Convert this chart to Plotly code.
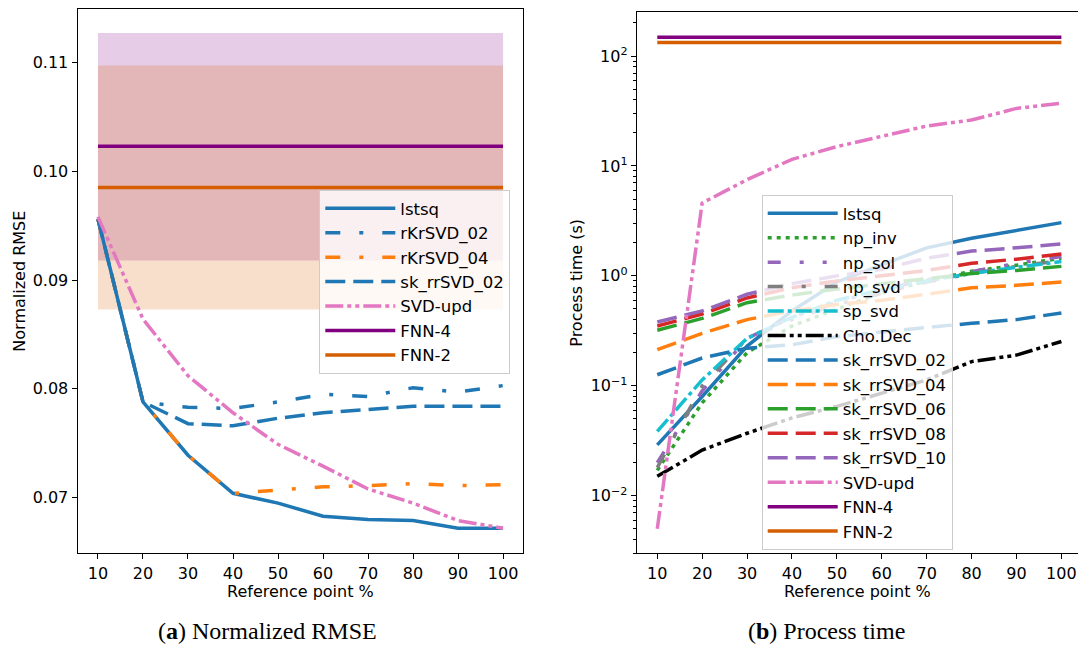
import plotly.graph_objects as go

# ---------------- data ----------------
x_pct = [10, 20, 30, 40, 50, 60, 70, 80, 90, 100]

# (a) Normalized RMSE
rmse_lstsq = [0.0956, 0.0788, 0.0739, 0.0704, 0.0695, 0.0683, 0.0680, 0.0679, 0.0672, 0.0672]
rmse_rKrSVD_02 = [0.0956, 0.0788, 0.0783, 0.0782, 0.0788, 0.0795, 0.0793, 0.0801, 0.0797, 0.0803]
rmse_rKrSVD_04 = [0.0956, 0.0788, 0.0739, 0.0704, 0.0707, 0.0710, 0.0711, 0.0713, 0.0711, 0.0712]
rmse_sk_rrSVD_02 = [0.0956, 0.0788, 0.0768, 0.0766, 0.0773, 0.0778, 0.0781, 0.0784, 0.0784, 0.0784]
rmse_svd_upd = [0.0958, 0.0864, 0.0812, 0.0778, 0.0749, 0.0729, 0.0708, 0.0695, 0.0679, 0.0672]
fnn4_rmse_mean, fnn4_rmse_low, fnn4_rmse_high = 0.1023, 0.0918, 0.1127
fnn2_rmse_mean, fnn2_rmse_low, fnn2_rmse_high = 0.0985, 0.0873, 0.1097

# (b) Process time (s)
t_lstsq = [0.029, 0.080, 0.23, 0.48, 0.88, 1.25, 1.8, 2.2, 2.6, 3.05]
t_np_inv = [0.017, 0.070, 0.20, 0.35, 0.50, 0.70, 0.90, 1.10, 1.25, 1.45]
t_np_sol = [0.020, 0.090, 0.27, 0.42, 0.58, 0.75, 0.92, 1.10, 1.30, 1.50]
t_np_svd = [0.018, 0.100, 0.27, 0.40, 0.55, 0.70, 0.88, 1.05, 1.22, 1.38]
t_sp_svd = [0.0385, 0.113, 0.27, 0.42, 0.60, 0.75, 0.90, 1.05, 1.20, 1.35]
t_cho_dec = [0.015, 0.026, 0.037, 0.051, 0.065, 0.086, 0.113, 0.166, 0.19, 0.253]
t_sk_rrSVD_02 = [0.126, 0.179, 0.22, 0.236, 0.28, 0.31, 0.34, 0.37, 0.40, 0.46]
t_sk_rrSVD_04 = [0.213, 0.30, 0.40, 0.48, 0.55, 0.60, 0.68, 0.78, 0.82, 0.88]
t_sk_rrSVD_06 = [0.32, 0.41, 0.57, 0.67, 0.76, 0.85, 0.95, 1.05, 1.12, 1.22]
t_sk_rrSVD_08 = [0.35, 0.45, 0.63, 0.78, 0.90, 1.00, 1.12, 1.30, 1.42, 1.58]
t_sk_rrSVD_10 = [0.38, 0.48, 0.68, 0.85, 1.00, 1.15, 1.45, 1.68, 1.80, 1.95]
t_svd_upd = [0.0050, 4.6, 7.5, 11.5, 15.0, 18.7, 23.1, 26.2, 33.4, 37.2]
t_fnn4 = 148
t_fnn2 = 133

log_ticks = [0.01, 0.1, 1, 10, 100]
log_ticktext = ["10<sup>−2</sup>", "10<sup>−1</sup>", "10<sup>0</sup>", "10<sup>1</sup>", "10<sup>2</sup>"]

# ---------------- styles ----------------
C_BLUE, C_ORANGE, C_GREEN, C_RED = "#1f77b4", "#ff7f0e", "#2ca02c", "#d62728"
C_PURPLE, C_GRAY, C_CYAN, C_PINK = "#9467bd", "#7f7f7f", "#17becf", "#e377c2"
C_FNN4, C_FNN2 = "#800080", "#d55e00"
LW = 3.5
DASH_LOOSE_DD = "15px,19px,4px,19px"
DASH_LOOSE_DDD = "13px,19px,4px,19px,4px,19px"
DASH_DASHED = "20px,8px"
DASH_DDD = "18px,4px,4px,4px,4px,4px"
DASH_DD = "16px,4px,4px,4px"
DASH_DOT = "4px,5px"
FONT = "DejaVu Sans"

W, H = 1078, 647


def px(xw):
    return xw / W


def py(yw):
    return (H - yw) / H


fig = go.Figure()

# bands (left)
x_lo, x_hi = x_pct[0], x_pct[-1]
for lo, hi, col in [(fnn4_rmse_low, fnn4_rmse_high, "rgba(128,0,128,0.2)"),
                    (fnn2_rmse_low, fnn2_rmse_high, "rgba(213,94,0,0.2)")]:
    fig.add_trace(go.Scatter(x=[x_lo, x_hi, x_hi, x_lo], y=[lo, lo, hi, hi], fill="toself",
                             fillcolor=col, line=dict(width=0), mode="lines",
                             showlegend=False, hoverinfo="skip", xaxis="x", yaxis="y"))

left_series = [
    ("lstsq", rmse_lstsq, C_BLUE, "solid"),
    ("rKrSVD_02", rmse_rKrSVD_02, C_BLUE, DASH_LOOSE_DD),
    ("rKrSVD_04", rmse_rKrSVD_04, C_ORANGE, DASH_LOOSE_DD),
    ("sk_rrSVD_02", rmse_sk_rrSVD_02, C_BLUE, DASH_DASHED),
    ("SVD-upd", rmse_svd_upd, C_PINK, DASH_DDD),
    ("FNN-4", [fnn4_rmse_mean] * len(x_pct), C_FNN4, "solid"),
    ("FNN-2", [fnn2_rmse_mean] * len(x_pct), C_FNN2, "solid"),
]
for name, ys, col, dash in left_series:
    fig.add_trace(go.Scatter(x=x_pct, y=ys, name=name, mode="lines",
                             line=dict(color=col, width=LW, dash=dash),
                             xaxis="x", yaxis="y", legend="legend"))

right_series = [
    ("lstsq", t_lstsq, C_BLUE, "solid"),
    ("np_inv", t_np_inv, C_GREEN, DASH_DOT),
    ("np_sol", t_np_sol, C_PURPLE, DASH_LOOSE_DDD),
    ("np_svd", t_np_svd, C_GRAY, DASH_LOOSE_DD),
    ("sp_svd", t_sp_svd, C_CYAN, DASH_DD),
    ("Cho.Dec", t_cho_dec, "black", DASH_DDD),
    ("sk_rrSVD_02", t_sk_rrSVD_02, C_BLUE, DASH_DASHED),
    ("sk_rrSVD_04", t_sk_rrSVD_04, C_ORANGE, DASH_DASHED),
    ("sk_rrSVD_06", t_sk_rrSVD_06, C_GREEN, DASH_DASHED),
    ("sk_rrSVD_08", t_sk_rrSVD_08, C_RED, DASH_DASHED),
    ("sk_rrSVD_10", t_sk_rrSVD_10, C_PURPLE, DASH_DASHED),
    ("SVD-upd", t_svd_upd, C_PINK, DASH_DDD),
    ("FNN-4", [t_fnn4] * len(x_pct), C_FNN4, "solid"),
    ("FNN-2", [t_fnn2] * len(x_pct), C_FNN2, "solid"),
]
for name, ys, col, dash in right_series:
    fig.add_trace(go.Scatter(x=x_pct, y=ys, name=name, mode="lines",
                             line=dict(color=col, width=LW, dash=dash),
                             xaxis="x2", yaxis="y2", legend="legend2"))

axis_common = dict(showline=True, linecolor="black", linewidth=1,
                   ticks="outside", ticklen=5, tickcolor="black", showgrid=False,
                   zeroline=False, tickfont=dict(family=FONT, size=16, color="black"),
                   automargin=False)
title_font = dict(family=FONT, size=16, color="black")
legend_common = dict(xanchor="left", yanchor="top", bgcolor="rgba(255,255,255,0.8)",
                     bordercolor="#cccccc", borderwidth=1,
                     font=dict(family=FONT, size=16.5, color="black"), itemwidth=70,
                     tracegroupgap=0)

fig.update_layout(
    width=W, height=H, margin=dict(l=0, r=0, t=0, b=0),
    paper_bgcolor="white", plot_bgcolor="white",
    font=dict(family=FONT, size=16, color="black"),
    xaxis=dict(domain=[px(77.5), px(523.3)], range=[5.45, 104.5], anchor="y", mirror=True,
               tickvals=x_pct, title=dict(text="Reference point %", standoff=4, font=title_font),
               **axis_common),
    yaxis=dict(domain=[py(553.3), py(9)], range=[0.06489, 0.1149], anchor="x", mirror=True,
               tickvals=[0.07, 0.08, 0.09, 0.10, 0.11], tickformat=".2f",
               title=dict(text="Normalized RMSE", standoff=3, font=title_font), **axis_common),
    xaxis2=dict(domain=[px(636.7), 1.0], range=[5.42, 103.7], anchor="y2", mirror=True,
                tickvals=x_pct, title=dict(text="Reference point %", standoff=4, font=title_font),
                **axis_common),
    yaxis2=dict(domain=[py(553.3), py(12.3)], type="log", range=[-2.524, 2.398],
                anchor="x2", mirror=False, tickvals=log_ticks, ticktext=log_ticktext,
                minor=dict(ticks="outside", ticklen=3, tickcolor="black", dtick="D1", showgrid=False),
                title=dict(text="Process time (s)", standoff=4, font=title_font), **axis_common),
    legend=dict(x=px(319.3), y=py(190), **legend_common),
    legend2=dict(x=px(761.7), y=py(195), **legend_common),
    annotations=[
        dict(text="(<b>a</b>) Normalized RMSE", x=px(267), y=py(631), xref="paper",
             yref="paper", showarrow=False, xanchor="center", yanchor="middle",
             font=dict(family="Liberation Serif", size=24, color="black")),
        dict(text="(<b>b</b>) Process time", x=px(826), y=py(631), xref="paper",
             yref="paper", showarrow=False, xanchor="center", yanchor="middle",
             font=dict(family="Liberation Serif", size=24, color="black")),
    ],
)

fig.write_html(
    "out.html",
    config={"displayModeBar": False},
    post_script="document.body.style.margin='0';"
                "document.documentElement.style.overflow='hidden';",
)
